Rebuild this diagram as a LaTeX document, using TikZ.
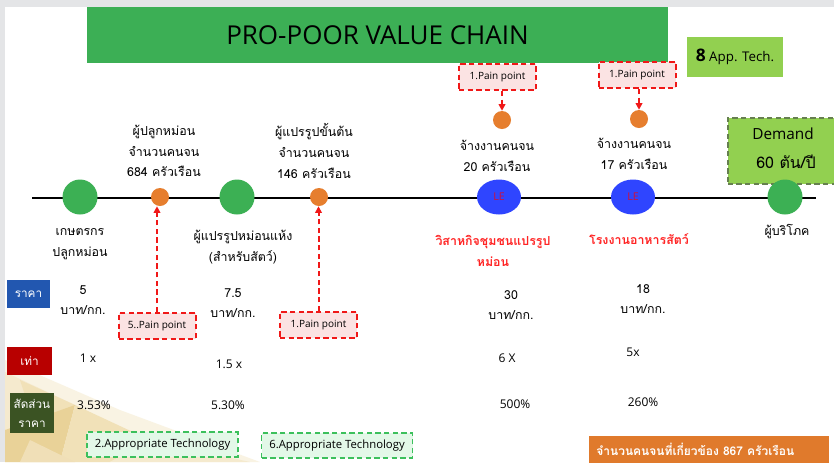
\documentclass[tikz,border=0pt]{standalone}
\usepackage{fontspec}
\setmainfont{Open Sans}
\newfontfamily\thaifont[Script=Thai]{Loma}
\usetikzlibrary{arrows.meta,shapes.geometric}
\definecolor{bggray}{HTML}{E4E5E7}
\definecolor{titlegreen}{HTML}{3CAF55}
\definecolor{litegreen}{HTML}{92D050}
\definecolor{demborder}{HTML}{66804F}
\definecolor{dotgreen}{HTML}{3CB054}
\definecolor{dotorange}{HTML}{E67E2E}
\definecolor{dotblue}{HTML}{2F45FF}
\definecolor{letext}{HTML}{D0103A}
\definecolor{painred}{HTML}{F01818}
\definecolor{painfill}{HTML}{FBE3E3}
\definecolor{techgreen}{HTML}{3CC05C}
\definecolor{techfill}{HTML}{E3F8E8}
\definecolor{pricebl}{HTML}{2257B0}
\definecolor{timesred}{HTML}{B80000}
\definecolor{ratiogr}{HTML}{3B5323}
\definecolor{redtext}{HTML}{FF2424}
\definecolor{bottomor}{HTML}{E07A2C}
\definecolor{goldA}{HTML}{F9F3E3}
\definecolor{goldB}{HTML}{F1E1B8}
\definecolor{goldC}{HTML}{E9D298}
\definecolor{goldD}{HTML}{F5EACE}
\tikzset{
  thai/.style={font=\thaifont\fontsize{9.3}{15.5}\selectfont, align=center, inner sep=0pt},
  lat/.style={font=\fontsize{9}{12}\selectfont, inner sep=0pt},
  bigdot/.style={circle, fill=dotgreen, minimum size=35pt*0.75, inner sep=0pt},
  smalldot/.style={circle, fill=dotorange, minimum size=18pt*0.75, inner sep=0pt},
  ledot/.style={ellipse, fill=dotblue, minimum width=44pt*0.75, minimum height=35pt*0.75, inner sep=0pt,
     font=\fontsize{8}{9}\selectfont, text=letext},
  painbox/.style={draw=painred, fill=painfill, line width=1.5pt, dash pattern=on 4pt off 2.5pt,
     minimum width=77pt*0.75, minimum height=26pt*0.75, inner sep=0pt, font=\fontsize{7.5}{9}\selectfont},
  painarrow/.style={draw=painred, line width=1.5pt, dash pattern=on 4pt off 2.5pt, -{Triangle[length=5pt,width=5pt]}},
  techbox/.style={draw=techgreen, fill=techfill, line width=1.3pt, dash pattern=on 4pt off 2.5pt,
     minimum width=151pt*0.75, minimum height=25pt*0.75, inner sep=0pt, font=\fontsize{8.5}{10}\selectfont},
  rowlabel/.style={text=white, inner sep=0pt, align=center, font=\thaifont\fontsize{8.8}{14}\selectfont},
}
\begin{document}
\begin{tikzpicture}[x=0.75pt,y=-0.75pt]
\useasboundingbox (0,0) rectangle (834,462);
% background
\fill[bggray] (0,0) rectangle (834,462);
\fill[white] (5,7) rectangle (834,462);
% decorative golden polygons
\fill[goldA] (5,360) -- (120,410) -- (260,462) -- (5,462) -- cycle;
\fill[goldD] (5,372) -- (75,405) -- (5,430) -- cycle;
\fill[goldB] (20,380) -- (75,405) -- (40,440) -- cycle;
\fill[goldC] (5,430) -- (75,405) -- (60,462) -- (5,462) -- cycle;
\fill[goldB] (75,405) -- (150,440) -- (110,462) -- (60,462) -- cycle;
\fill[goldD] (150,440) -- (250,462) -- (110,462) -- cycle;
\fill[goldC!70!white] (30,440) -- (75,462) -- (20,462) -- cycle;
% title
\node[fill=titlegreen, minimum width=581pt*0.75, minimum height=56pt*0.75, inner sep=0pt,
  font=\fontsize{19.5}{22}\selectfont] (title) at (377.5,35) {PRO-POOR VALUE CHAIN};
% 8 App. Tech.
\node[fill=litegreen, minimum width=96pt*0.75, minimum height=40pt*0.75, inner sep=0pt] (apptech) at (735,57)
  {\fontsize{13}{15}\selectfont\textbf{8}\fontsize{10}{12}\selectfont\ App. Tech.};
% Demand
\node[draw=demborder, fill=litegreen, line width=1.2pt, dash pattern=on 4pt off 2.5pt,
  minimum width=115pt*0.75, minimum height=66pt*0.75, inner sep=0pt, anchor=north west] (demand) at (727,117) {};
\node[font=\fontsize{11.5}{14}\selectfont, inner sep=0pt] (demt1) at (783,134) {Demand};
\node[font=\thaifont\fontsize{12}{14}\selectfont, inner sep=0pt] (demt2) at (786,162) {60 ตัน/ปี};
% main line
\coordinate (lstart) at (32,198);
\coordinate (lend) at (816,198);
\draw[line width=1.6pt] (lstart) -- (lend);
% dots
\node[bigdot] (farmer) at (80,197) {};
\node[smalldot] (od1) at (160,197) {};
\node[bigdot] (dryproc) at (237,197) {};
\node[smalldot] (od2) at (319,197) {};
\node[ledot] (le1) at (499,197) {LE};
\node[ledot] (le2) at (633,197) {LE};
\node[bigdot] (consumer) at (785,197) {};
\node[smalldot] (od3) at (502,120) {};
\node[smalldot] (od4) at (639,119) {};
% pain boxes
\node[painbox] (pp1) at (497.5,77) {1.Pain point};
\node[painbox] (pp2) at (637,75) {1.Pain point};
\node[painbox] (pp5) at (157,326) {5..Pain point};
\node[painbox] (pp6) at (318.5,325) {1.Pain point};
\draw[painarrow] (pp1.south -| od3) -- (od3.north);
\draw[painarrow] (pp2.south -| od4) -- (od4.north);
\draw[painarrow] (pp5.north) -- (pp5.north |- od1.south);
\draw[painarrow] (pp6.north) -- (pp6.north |- od2.south);
% upper texts
\node[thai] (t1) at (164,151) {ผู้ปลูกหม่อน\\จำนวนคนจน\\684 ครัวเรือน};
\node[thai] (t2) at (314,151) {ผู้แปรรูปขั้นต้น\\จำนวนคนจน\\146 ครัวเรือน};
\node[thai] (t3) at (497,156) {จ้างงานคนจน\\20 ครัวเรือน};
\node[thai] (t4) at (634,154) {จ้างงานคนจน\\17 ครัวเรือน};
% lower texts
\node[thai] (b1) at (80,244) {เกษตรกร\\ปลูกหม่อน};
\node[thai] (b2) at (243,247) {ผู้แปรรูปหม่อนแห้ง\\(สำหรับสัตว์)};
\node[thai, text=redtext, font=\thaifont\bfseries\fontsize{9.3}{15.5}\selectfont] (b3) at (493,251) {วิสาหกิจชุมชนแปรรูป\\หม่อน};
\node[thai, text=redtext, font=\thaifont\bfseries\fontsize{9.3}{15.5}\selectfont] (b4) at (639,239) {โรงงานอาหารสัตว์};
\node[thai] (b5) at (787,232) {ผู้บริโภค};
% row labels
\node[rowlabel, fill=pricebl, minimum width=43pt*0.75, minimum height=28pt*0.75] (lprice) at (28.5,294) {ราคา};
\node[rowlabel, fill=timesred, minimum width=45pt*0.75, minimum height=28pt*0.75] (ltimes) at (29.5,361) {เท่า};
\node[rowlabel, fill=ratiogr, minimum width=44pt*0.75, minimum height=40pt*0.75] (lratio) at (32,413) {สัดส่วน\\ราคา};
% price values
\node[thai] (p1) at (83,300) {5\\บาท/กก.};
\node[thai] (p2) at (233,303) {7.5\\บาท/กก.};
\node[thai] (p3) at (511,305) {30\\บาท/กก.};
\node[thai] (p4) at (643,299) {18\\บาท/กก.};
% times values
\node[lat] (x1) at (88,358) {1 x};
\node[lat] (x2) at (229,364) {1.5 x};
\node[lat] (x3) at (507,358) {6 X};
\node[lat] (x4) at (633,352) {5x};
% ratio values
\node[lat] (r1) at (94,405) {3.53\%};
\node[lat] (r2) at (228,405) {5.30\%};
\node[lat] (r3) at (515,404) {500\%};
\node[lat] (r4) at (643,402) {260\%};
% tech boxes
\node[techbox] (tech2) at (162.5,444.5) {2.Appropriate Technology};
\node[techbox] (tech6) at (337,445.5) {6.Appropriate Technology};
% bottom orange
\node[fill=bottomor, minimum width=240pt*0.75, minimum height=27pt*0.75, inner sep=0pt, anchor=north west] (total) at (589,436) {};
\node[text=white, anchor=west, inner sep=0pt, font=\thaifont\bfseries\fontsize{9}{11}\selectfont] (totalt) at (596,449) {จำนวนคนจนที่เกี่ยวข้อง 867 ครัวเรือน};
\end{tikzpicture}
\end{document}
